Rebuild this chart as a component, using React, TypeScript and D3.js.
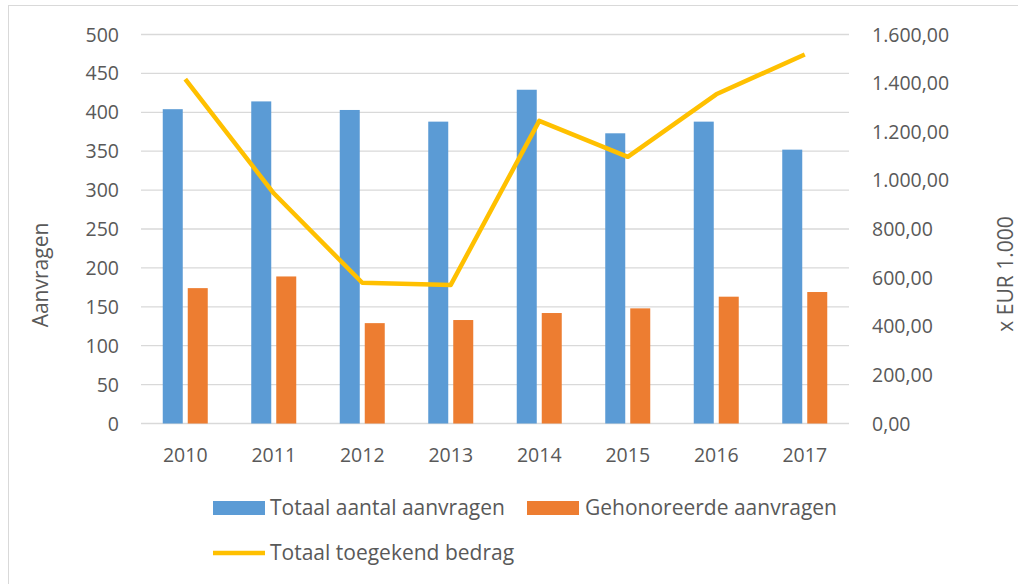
import React, { useEffect, useRef } from 'react'
import * as d3 from 'd3'

const years = ['2010', '2011', '2012', '2013', '2014', '2015', '2016', '2017']
const totaalAanvragen = [404, 414, 403, 388, 429, 373, 388, 352]
const gehonoreerd = [174, 189, 129, 133, 142, 148, 163, 169]
const toegekendBedrag = [1416, 947, 579, 570, 1245, 1097, 1354, 1518]
const leftTicks = [0, 50, 100, 150, 200, 250, 300, 350, 400, 450, 500]
const rightTicks = [0, 200, 400, 600, 800, 1000, 1200, 1400, 1600]

const App = () => {
	const ref = useRef<SVGSVGElement>(null)

	const width = 1018,
		height = 584

	useEffect(() => {
		const svg = d3.select(ref.current)
		svg.selectAll('*').remove()

		const left = 141,
			right = 849,
			top = 34.5,
			bottom = 423.5
		const font = '"Open Sans", Lato, sans-serif'
		const textColor = '#595959'

		const nl = d3.formatLocale({ decimal: ',', thousands: '.', grouping: [3], currency: ['€', ''] })
		const fmtEur = nl.format(',.2f')

		const x = d3.scaleBand().domain(years).range([left, right])
		const yL = d3.scaleLinear().domain([0, 500]).range([bottom, top])
		const yR = d3.scaleLinear().domain([0, 1600]).range([bottom, top])

		// chart frame
		svg.append('rect')
			.attr('x', 8.5).attr('y', 5.5)
			.attr('width', width + 20).attr('height', height + 20)
			.attr('fill', 'white').attr('stroke', '#d9d9d9')

		// gridlines
		svg.append('g').selectAll('line').data(leftTicks).enter().append('line')
			.attr('x1', left).attr('x2', right)
			.attr('y1', d => yL(d)).attr('y2', d => yL(d))
			.attr('stroke', '#d9d9d9').attr('stroke-width', 1.3)

		// left tick labels
		svg.append('g').selectAll('text').data(leftTicks).enter().append('text')
			.attr('x', 119).attr('y', d => yL(d)).attr('dy', '0.36em')
			.attr('text-anchor', 'end')
			.attr('font-family', font).attr('font-size', 19.5).attr('fill', textColor)
			.text(d => d)

		// right tick labels
		svg.append('g').selectAll('text').data(rightTicks).enter().append('text')
			.attr('x', 872).attr('y', d => yR(d)).attr('dy', '0.36em')
			.attr('text-anchor', 'start')
			.attr('font-family', font).attr('font-size', 19.5).attr('fill', textColor)
			.text(d => fmtEur(d))

		// x labels
		svg.append('g').selectAll('text').data(years).enter().append('text')
			.attr('x', d => x(d)! + x.bandwidth() / 2).attr('y', 462)
			.attr('text-anchor', 'middle')
			.attr('font-family', font).attr('font-size', 19.5).attr('fill', textColor)
			.text(d => d)

		// bars
		const barW = 20,
			gap = 5
		const bars = svg.append('g')
		bars.selectAll('rect.totaal').data(totaalAanvragen).enter().append('rect')
			.attr('class', 'totaal')
			.attr('x', (d, i) => x(years[i])! + x.bandwidth() / 2 - barW - gap / 2)
			.attr('y', d => yL(d))
			.attr('width', barW)
			.attr('height', d => bottom - yL(d))
			.attr('fill', '#5b9bd5')
		bars.selectAll('rect.geh').data(gehonoreerd).enter().append('rect')
			.attr('class', 'geh')
			.attr('x', (d, i) => x(years[i])! + x.bandwidth() / 2 + gap / 2)
			.attr('y', d => yL(d))
			.attr('width', barW)
			.attr('height', d => bottom - yL(d))
			.attr('fill', '#ed7d31')

		// line
		const line = d3.line<number>()
			.x((d, i) => x(years[i])! + x.bandwidth() / 2)
			.y(d => yR(d))
		svg.append('path')
			.datum(toegekendBedrag)
			.attr('d', line)
			.attr('fill', 'none')
			.attr('stroke', '#ffc000')
			.attr('stroke-width', 4.5)
			.attr('stroke-linejoin', 'round')

		// axis titles
		svg.append('text')
			.attr('transform', 'translate(48,275) rotate(-90)')
			.attr('text-anchor', 'middle')
			.attr('font-family', font).attr('font-size', 21).attr('fill', textColor)
			.text('Aanvragen')
		svg.append('text')
			.attr('transform', 'translate(1013,274) rotate(-90)')
			.attr('text-anchor', 'middle')
			.attr('font-family', font).attr('font-size', 21).attr('fill', textColor)
			.text('x EUR 1.000')

		// legend
		const leg = svg.append('g').attr('font-family', font).attr('font-size', 21).attr('fill', textColor)
		leg.append('rect').attr('x', 213).attr('y', 501).attr('width', 52).attr('height', 14).attr('fill', '#5b9bd5')
		leg.append('text').attr('x', 270).attr('y', 515).text('Totaal aantal aanvragen')
		leg.append('rect').attr('x', 527).attr('y', 501).attr('width', 52).attr('height', 14).attr('fill', '#ed7d31')
		leg.append('text').attr('x', 585).attr('y', 515).text('Gehonoreerde aanvragen')
		leg.append('line').attr('x1', 213).attr('x2', 265).attr('y1', 553).attr('y2', 553)
			.attr('stroke', '#ffc000').attr('stroke-width', 4.5)
		leg.append('text').attr('x', 270).attr('y', 560).text('Totaal toegekend bedrag')
	}, [])

	return (
		<svg
			ref={ref}
			width={width}
			height={height}
			style={{ position: 'absolute', left: 0, top: 0, background: 'white' }}
		></svg>
	)
}

export default App
